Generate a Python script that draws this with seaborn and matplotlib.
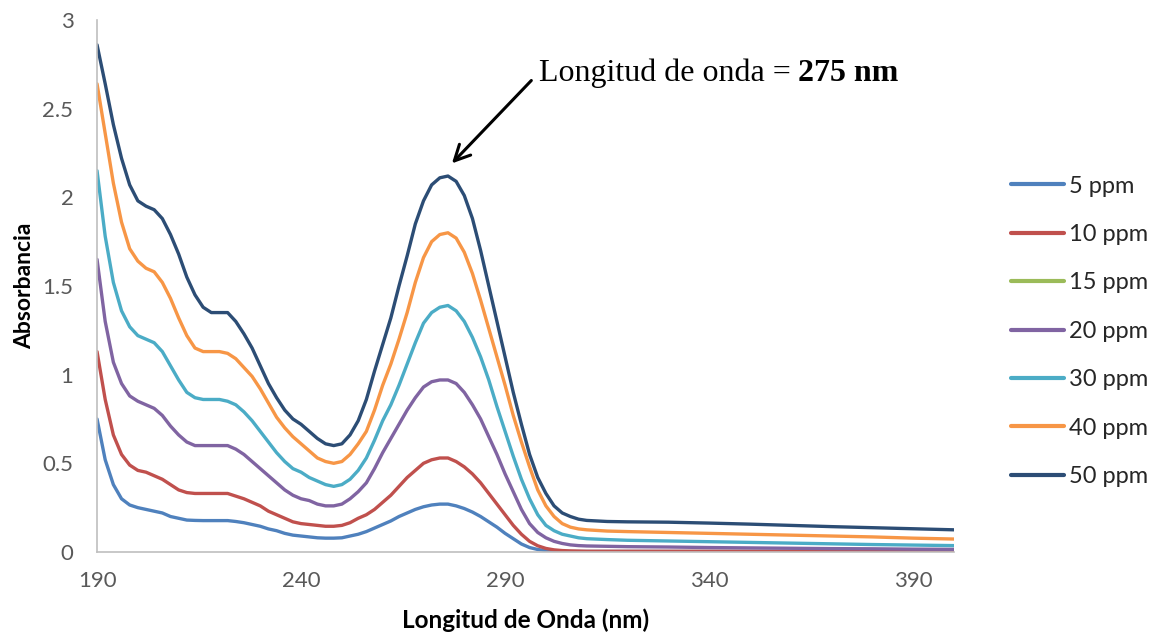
import matplotlib
matplotlib.use("Agg")
import matplotlib.pyplot as plt
from matplotlib.ticker import FuncFormatter, FixedLocator
import seaborn as sns
import pandas as pd

# Wavelength grid (nm)
wavelength = [190, 192, 194, 196, 198, 200, 202, 204, 206, 208,
              210, 212, 214, 216, 218, 220, 222, 224, 226, 228,
              230, 232, 234, 236, 238, 240, 242, 244, 246, 248,
              250, 252, 254, 256, 258, 260, 262, 264, 266, 268,
              270, 272, 274, 276, 278, 280, 282, 284, 286, 288,
              290, 292, 294, 296, 298, 300, 302, 304, 306, 308,
              310, 315, 320, 330, 340, 350, 360, 370, 380, 390, 400]

# Absorbance spectra per concentration
abs_5 = [0.75, 0.52, 0.38, 0.30, 0.265, 0.25, 0.24, 0.23, 0.22, 0.20,
         0.19, 0.18, 0.178, 0.177, 0.177, 0.177, 0.177, 0.172, 0.165, 0.155,
         0.145, 0.13, 0.12, 0.105, 0.095, 0.09, 0.085, 0.08, 0.078, 0.078,
         0.08, 0.09, 0.10, 0.115, 0.135, 0.155, 0.175, 0.20, 0.22, 0.24,
         0.255, 0.265, 0.27, 0.27, 0.26, 0.245, 0.225, 0.20, 0.17, 0.14,
         0.105, 0.075, 0.045, 0.025, 0.014, 0.008, 0.005, 0.004, 0.003, 0.003,
         0.003, 0.003, 0.003, 0.003, 0.003, 0.003, 0.003, 0.003, 0.003, 0.003, 0.003]

abs_10 = [1.13, 0.86, 0.66, 0.55, 0.49, 0.46, 0.45, 0.43, 0.41, 0.38,
          0.35, 0.335, 0.33, 0.33, 0.33, 0.33, 0.33, 0.315, 0.30, 0.28,
          0.26, 0.23, 0.21, 0.19, 0.17, 0.16, 0.155, 0.15, 0.145, 0.145,
          0.15, 0.165, 0.19, 0.21, 0.24, 0.28, 0.32, 0.37, 0.42, 0.46,
          0.50, 0.52, 0.53, 0.53, 0.51, 0.48, 0.44, 0.39, 0.33, 0.27,
          0.21, 0.15, 0.10, 0.06, 0.035, 0.02, 0.012, 0.008, 0.006, 0.005,
          0.004, 0.004, 0.004, 0.004, 0.004, 0.004, 0.004, 0.004, 0.004, 0.004, 0.004]

abs_15 = []

abs_20 = [1.65, 1.30, 1.07, 0.95, 0.88, 0.85, 0.83, 0.81, 0.77, 0.71,
          0.66, 0.62, 0.60, 0.60, 0.60, 0.60, 0.60, 0.58, 0.55, 0.51,
          0.47, 0.43, 0.39, 0.35, 0.32, 0.30, 0.29, 0.27, 0.26, 0.26,
          0.27, 0.30, 0.34, 0.39, 0.47, 0.56, 0.64, 0.72, 0.80, 0.87,
          0.93, 0.96, 0.97, 0.97, 0.95, 0.90, 0.83, 0.75, 0.65, 0.55,
          0.44, 0.34, 0.24, 0.16, 0.11, 0.08, 0.06, 0.048, 0.04, 0.036,
          0.034, 0.032, 0.030, 0.028, 0.025, 0.023, 0.021, 0.019, 0.018, 0.016, 0.015]

abs_30 = [2.15, 1.78, 1.52, 1.36, 1.27, 1.22, 1.20, 1.18, 1.13, 1.05,
          0.97, 0.90, 0.87, 0.86, 0.86, 0.86, 0.85, 0.83, 0.79, 0.74,
          0.68, 0.62, 0.56, 0.51, 0.47, 0.45, 0.42, 0.40, 0.38, 0.37,
          0.38, 0.41, 0.46, 0.53, 0.63, 0.74, 0.83, 0.94, 1.06, 1.18,
          1.29, 1.35, 1.38, 1.39, 1.36, 1.30, 1.21, 1.10, 0.97, 0.82,
          0.68, 0.54, 0.41, 0.30, 0.21, 0.15, 0.12, 0.10, 0.09, 0.08,
          0.075, 0.070, 0.066, 0.062, 0.058, 0.054, 0.050, 0.046, 0.042, 0.039, 0.036]

abs_40 = [2.64, 2.36, 2.08, 1.86, 1.71, 1.64, 1.60, 1.58, 1.52, 1.43,
          1.32, 1.22, 1.15, 1.13, 1.13, 1.13, 1.12, 1.09, 1.04, 0.99,
          0.92, 0.84, 0.76, 0.70, 0.65, 0.61, 0.57, 0.53, 0.51, 0.50,
          0.51, 0.55, 0.61, 0.68, 0.80, 0.94, 1.06, 1.20, 1.35, 1.52,
          1.66, 1.75, 1.79, 1.80, 1.77, 1.69, 1.57, 1.42, 1.26, 1.10,
          0.94, 0.77, 0.62, 0.48, 0.35, 0.26, 0.20, 0.16, 0.14, 0.13,
          0.125, 0.118, 0.115, 0.110, 0.105, 0.100, 0.095, 0.090, 0.085, 0.078, 0.073]

abs_50 = [2.86, 2.64, 2.41, 2.22, 2.07, 1.98, 1.95, 1.93, 1.88, 1.79,
          1.68, 1.55, 1.45, 1.38, 1.35, 1.35, 1.35, 1.30, 1.23, 1.15,
          1.05, 0.95, 0.87, 0.80, 0.75, 0.72, 0.68, 0.64, 0.61, 0.60,
          0.61, 0.66, 0.74, 0.86, 1.02, 1.17, 1.32, 1.50, 1.67, 1.85,
          1.98, 2.07, 2.11, 2.12, 2.09, 2.01, 1.88, 1.70, 1.50, 1.30,
          1.10, 0.90, 0.72, 0.55, 0.42, 0.33, 0.26, 0.22, 0.20, 0.185,
          0.178, 0.172, 0.170, 0.168, 0.163, 0.157, 0.150, 0.143, 0.137, 0.131, 0.125]

series_labels = ["5 ppm", "10 ppm", "15 ppm", "20 ppm", "30 ppm", "40 ppm", "50 ppm"]
series_values = [abs_5, abs_10, abs_15, abs_20, abs_30, abs_40, abs_50]
series_colors = ["#4F81BD", "#C0504D", "#9BBB59", "#8064A2", "#4BACC6", "#F79646", "#2C4D75"]

x_ticks = [190, 240, 290, 340, 390]
y_ticks = [0, 0.5, 1, 1.5, 2, 2.5, 3]

peak_wavelength = 275

sns.set_theme(style="white")
plt.rcParams["font.family"] = ["Lato", "DejaVu Sans"]

fig = plt.figure(figsize=(11.58, 6.36), dpi=100)
ax = fig.add_axes([0.0838, 0.1321, 0.7400, 0.8365])

for label, vals, color in zip(series_labels, series_values, series_colors):
    if len(vals) == 0:
        ax.plot([], [], color=color, lw=2.4, label=label)
        continue
    df = pd.DataFrame({"wl": wavelength, "A": vals})
    sns.lineplot(data=df, x="wl", y="A", color=color, lw=2.4, label=label,
                 ax=ax, estimator=None, sort=False,
                 solid_joinstyle="round", solid_capstyle="round")

ax.set_xlim(190, 400)
ax.set_ylim(0, 3)
ax.xaxis.set_major_locator(FixedLocator(x_ticks))
ax.yaxis.set_major_locator(FixedLocator(y_ticks))
ax.yaxis.set_major_formatter(FuncFormatter(lambda v, p: f"{v:g}"))
ax.tick_params(axis="both", length=0, labelsize=16, labelcolor="#595959")
ax.tick_params(axis="y", pad=17)
ax.tick_params(axis="x", pad=14)

for side in ("top", "right"):
    ax.spines[side].set_visible(False)
for side in ("left", "bottom"):
    ax.spines[side].set_color("#BFBFBF")
    ax.spines[side].set_linewidth(1.2)

ax.set_xlabel("Longitud de Onda (nm)", fontsize=17.5, fontweight="bold", color="black", labelpad=12)
ax.set_ylabel("Absorbancia", fontsize=16.5, fontweight="bold", color="black", labelpad=5)

# Peak annotation
ax.annotate("", xy=(276.5, 2.18), xytext=(296.9, 2.67),
            arrowprops=dict(arrowstyle="->", color="black", lw=2.2, mutation_scale=28))
t1 = ax.text(298.2, 2.655, "Longitud de onda = ", fontsize=23,
             family="Liberation Serif", ha="left", va="baseline", color="black")
ax.annotate(f"{peak_wavelength} nm", xy=(1, 0), xycoords=t1, fontsize=23,
            family="Liberation Serif", fontweight="bold", ha="left", va="bottom", color="black")

leg = ax.legend(loc="center left", bbox_to_anchor=(0.873, 0.479),
                bbox_transform=fig.transFigure, frameon=False, fontsize=17,
                handlelength=2.25, handletextpad=0.2, labelspacing=1.16,
                borderpad=0, borderaxespad=0)
for line in leg.get_lines():
    line.set_linewidth(3)

fig.savefig("out.png", dpi=100)
